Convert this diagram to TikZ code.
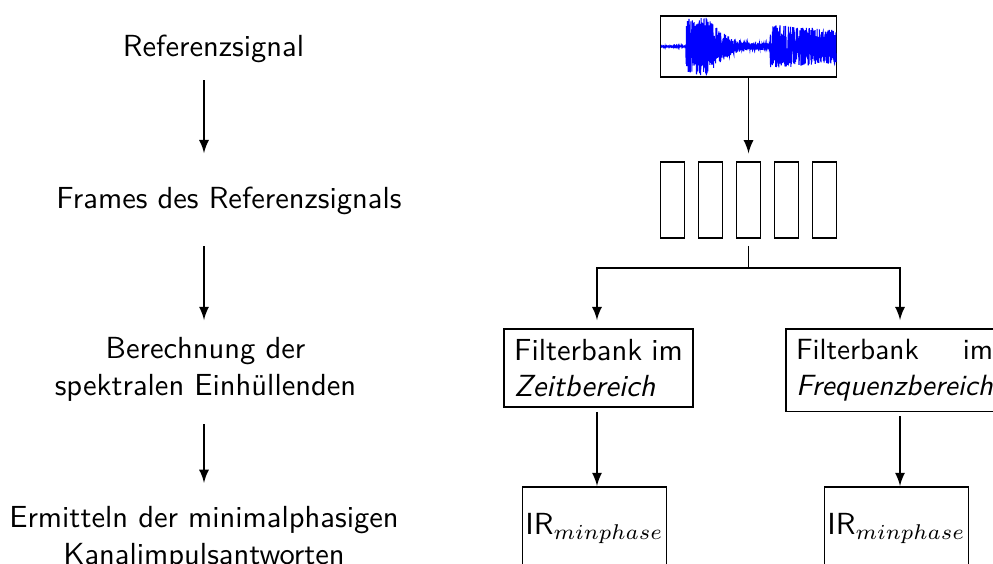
\documentclass[tikz,border=0pt]{standalone}
\usetikzlibrary{arrows}
\begin{document}
\begin{tikzpicture}[x=0.32787pt, y=-0.32787pt,
  declare function={env(\t)=ifthenelse(\t<686,0.4,ifthenelse(\t<708,29,ifthenelse(\t<770,max(3.5,29*exp(-(\t-708)/20)),22-0.08*(\t-770))));},
  lbl/.style={font=\sffamily, inner sep=0pt},
  arr/.style={-latex, line width=0.5pt},
  ln/.style={line width=0.5pt},
  fbox/.style={draw, line width=0.5pt, font=\sffamily, align=justify, inner sep=3.33pt},
  frm/.style={draw, line width=0.5pt, minimum width=7.87pt, minimum height=24.9pt, inner sep=0pt},
  irbox/.style={draw, line width=0.5pt, font=\sffamily, minimum width=47.2pt, minimum height=27.5pt, inner sep=0pt}
]
\useasboundingbox (0,0) rectangle (993,563);
\clip (0,0) rectangle (993,563);

% left column
\node[lbl, anchor=base] (ref) at (213.5,56.7) {Referenzsignal};
\node[lbl, anchor=base] (frames) at (229,208) {Frames des Referenzsignals};
\node[lbl, anchor=north, align=center] (ber) at (205.5,336.8) {Berechnung der\\spektralen Einh\"ullenden};
\node[lbl, anchor=north, align=center] (erm) at (204,506) {Ermitteln der minimalphasigen\\Kanalimpulsantworten};

\draw[arr, shorten <=5.4pt, shorten >=10.75pt] (ref.south -| erm.north) -- (frames.north -| erm.north);
\draw[arr, shorten <=10.2pt, shorten >=5.5pt] (frames.south -| erm.north) -- (ber.north -| erm.north);
\draw[arr, shorten <=7.4pt, shorten >=7.6pt] (ber.south -| erm.north) -- (erm.north);

% right column: waveform
\node[draw, line width=0.5pt, minimum width=57.7pt, minimum height=20pt, inner sep=0pt] (wave) at (748.5,46.5) {};
\pgfmathsetseed{7}
\draw[blue, line width=0.35pt] plot[domain=661:836, samples=1400] ({\x},{46.5+env(\x)*rand});

% frames
\foreach \i in {1,...,5}{
  \node[frm] (f\i) at ({634.5+38*\i},200) {};
}
\draw[arr, shorten >=2.6pt] (wave.south) -- (f3.north);

% filter banks
\node[fbox, text width=55.3pt, anchor=north] (fb1) at (598.5,328) {Filterbank im\linebreak\textit{Zeitbereich}};
\node[fbox, text width=64.6pt, anchor=north, font=\sffamily\fontsize{9.6}{12}\selectfont] (fb2) at (894.5,328) {Filterbank im\linebreak\textit{Frequenzbereich}};

\coordinate (split) at (748.5,268);
\draw[ln, shorten <=2.3pt] (f3.south) -- (split);
\draw[arr, shorten >=2.6pt] (split) -| ([xshift=-0.5pt]fb1.north);
\draw[arr, shorten >=2.6pt] (split) -| ([xshift=1.8pt]fb2.north);

% IR boxes
\node[irbox, anchor=north] (ir1) at (594.5,486) {IR$_{minphase}$};
\node[irbox, anchor=north] (ir2) at (896.5,486) {IR$_{minphase}$};

\draw[arr, shorten <=1.3pt] ([xshift=-0.5pt]fb1.south) -- ([xshift=-0.5pt]fb1.south |- ir1.north);
\draw[arr, shorten <=1.3pt] ([xshift=1.8pt]fb2.south) -- ([xshift=1.8pt]fb2.south |- ir2.north);
\end{tikzpicture}
\end{document}
